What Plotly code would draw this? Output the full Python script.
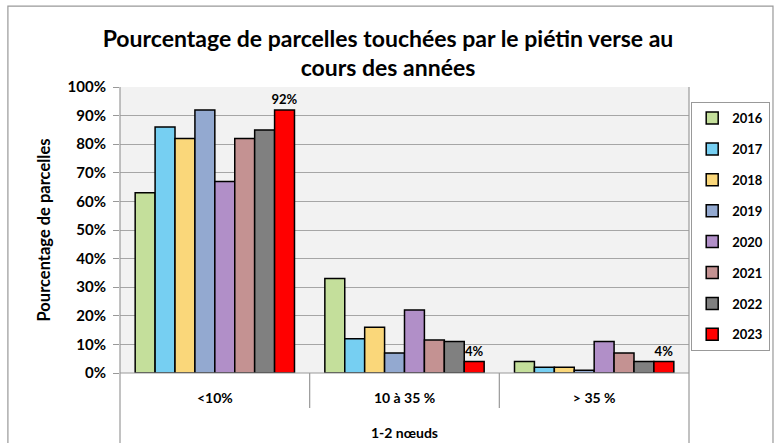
import plotly.graph_objects as go

categories = ["<10%", "10 à 35 %", "> 35 %"]
years = ["2016", "2017", "2018", "2019", "2020", "2021", "2022", "2023"]
v2016 = [63, 33, 4]
v2017 = [86, 12, 2]
v2018 = [82, 16, 2]
v2019 = [92, 7, 1]
v2020 = [67, 22, 11]
v2021 = [82, 11.5, 7]
v2022 = [85, 11, 4]
v2023 = [92, 4, 4]
labels2023 = ["92%", "4%", "4%"]
y_ticks = [0, 10, 20, 30, 40, 50, 60, 70, 80, 90, 100]
y_ticklabels = [f"{t}%" for t in y_ticks]

series = [v2016, v2017, v2018, v2019, v2020, v2021, v2022, v2023]
colors = ["#c4df9b", "#76cff2", "#fad77a", "#93a9d0", "#b18fc8", "#c49292", "#808080", "#ff0000"]

FONT = "Lato"
fig = go.Figure()
for i, (yr, vals, col) in enumerate(zip(years, series, colors)):
    is_last = yr == "2023"
    fig.add_trace(go.Bar(
        x=categories, y=vals, name=yr, legendgroup=yr,
        marker=dict(color=col, line=dict(color="#000000", width=1.5)),
        text=labels2023 if is_last else None,
        textposition="outside" if is_last else None,
        constraintext="none",
        textfont=dict(family=FONT, size=13, color="#000000", weight="bold"),
        cliponaxis=False,
    ))

grey = "#999999"
fig.update_layout(
    width=776, height=443,
    margin=dict(l=120, r=87, t=87, b=70, autoexpand=False),
    paper_bgcolor="white", plot_bgcolor="#f2f2f2",
    barmode="group", bargap=0.16, bargroupgap=0,
    font=dict(family=FONT, size=14, color="#000000"),
    title=dict(text="<b>Pourcentage de parcelles touchées par le piétin verse au<br>cours des années</b>",
               x=0.5, xanchor="center", y=0.895, yanchor="top",
               font=dict(family=FONT, size=23, color="#000000")),
    legend=dict(x=1.0035, xanchor="left", y=0.948, yanchor="top",
                bordercolor=grey, borderwidth=1.2, bgcolor="white",
                font=dict(family=FONT, size=13, color="#000000", weight="bold"),
                tracegroupgap=11, itemwidth=30),
    xaxis=dict(showgrid=False, ticks="", showline=False,
               tickfont=dict(family=FONT, size=14, weight="bold"),
               ticklabelstandoff=15, range=[-0.5, 2.5]),
    yaxis=dict(range=[0, 100], tickvals=y_ticks, ticktext=y_ticklabels,
               showgrid=True, gridcolor="#a6a6a6", gridwidth=1,
               ticks="outside", ticklen=6, tickcolor=grey,
               showline=False, zeroline=False, ticklabelstandoff=4,
               tickfont=dict(family=FONT, size=15, weight="bold"),
               title=dict(text="<b>Pourcentage de parcelles</b>", standoff=12,
                          font=dict(family=FONT, size=16.5))),
)

shapes = [
    dict(type="rect", xref="paper", yref="paper", x0=-0.197, x1=1.1476, y0=-0.5, y1=1.283,
         line=dict(color=grey, width=1.2), fillcolor="rgba(0,0,0,0)", layer="below"),
    dict(type="line", xref="paper", yref="paper", x0=0, x1=0, y0=-0.5, y1=1,
         line=dict(color=grey, width=1.2)),
    dict(type="line", xref="paper", yref="paper", x0=1, x1=1, y0=-0.5, y1=1,
         line=dict(color=grey, width=1.2)),
    dict(type="line", xref="x", yref="paper", x0=0.5, x1=0.5, y0=-0.122, y1=0,
         line=dict(color=grey, width=1.2)),
    dict(type="line", xref="x", yref="paper", x0=1.5, x1=1.5, y0=-0.122, y1=0,
         line=dict(color=grey, width=1.2)),
    dict(type="line", xref="paper", yref="paper", x0=0, x1=1, y0=0, y1=0,
         line=dict(color=grey, width=1.2)),
]
fig.update_layout(shapes=shapes)
fig.add_annotation(text="<b>1-2 nœuds</b>", xref="paper", yref="paper", x=0.5, y=-0.245,
                   showarrow=False, font=dict(family=FONT, size=14, color="#000000"))

fig.write_html("out.html", config={"displayModeBar": False},
               post_script="document.body.style.margin='0';")
